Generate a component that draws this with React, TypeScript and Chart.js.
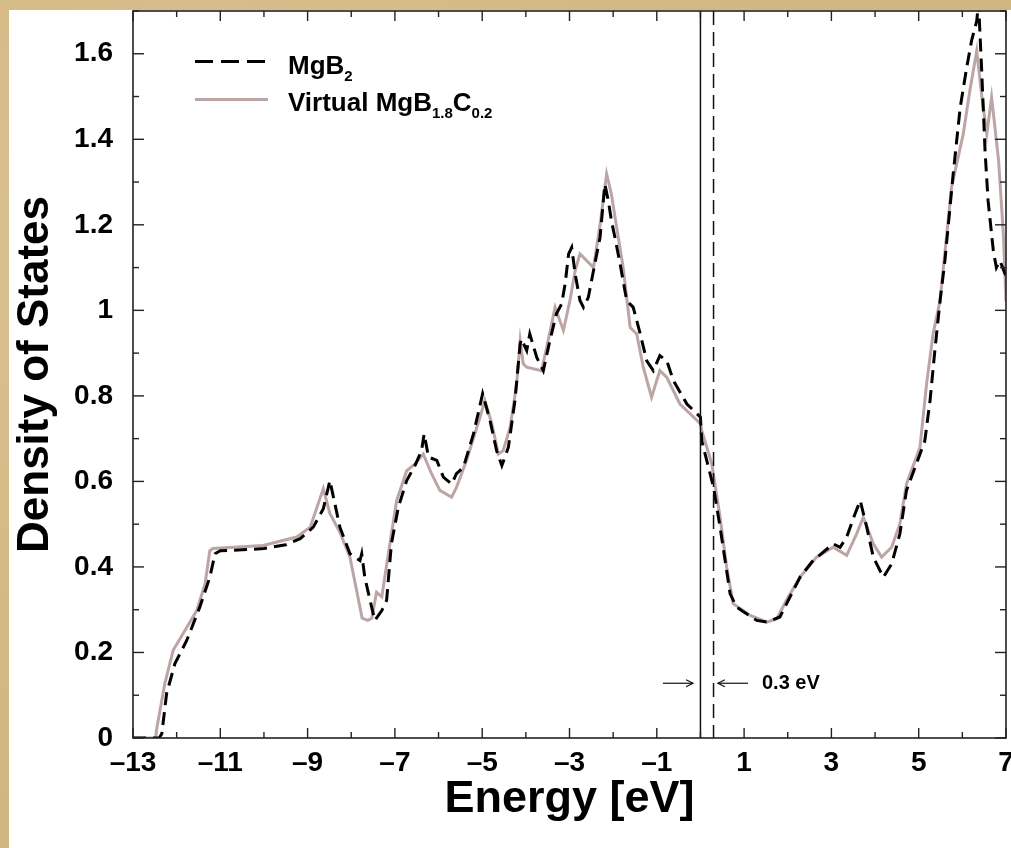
import React, { useEffect, useRef } from "react";
import { Chart, registerables } from "chart.js";

Chart.register(...registerables);

// ---------- data ----------
const seriesLabels = ["MgB₂", "Virtual MgB1.8C0.2"];

const mgb2Points: [number, number][] = [
  [-13, 0], [-12.4, 0], [-12.34, 0.01], [-12.23, 0.104], [-12.04, 0.174], [-11.77, 0.228],
  [-11.47, 0.306], [-11.24, 0.376], [-11.12, 0.431], [-11.0, 0.438], [-10.5, 0.44], [-10.0, 0.443],
  [-9.5, 0.452], [-9.17, 0.466], [-8.87, 0.493], [-8.64, 0.536], [-8.49, 0.602], [-8.26, 0.493],
  [-8.03, 0.431], [-7.8, 0.415], [-7.76, 0.431], [-7.69, 0.376], [-7.57, 0.322], [-7.46, 0.275],
  [-7.3, 0.298], [-7.19, 0.322], [-7.08, 0.454], [-6.92, 0.54], [-6.73, 0.602], [-6.54, 0.637],
  [-6.39, 0.672], [-6.33, 0.711], [-6.23, 0.657], [-6.04, 0.649], [-5.89, 0.61], [-5.7, 0.594],
  [-5.59, 0.618], [-5.43, 0.633], [-5.2, 0.711], [-4.99, 0.805], [-4.82, 0.742], [-4.67, 0.672],
  [-4.55, 0.637], [-4.4, 0.68], [-4.25, 0.789], [-4.13, 0.922], [-4.1, 0.933], [-3.98, 0.906],
  [-3.91, 0.945], [-3.75, 0.89], [-3.6, 0.859], [-3.45, 0.929], [-3.3, 0.992], [-3.18, 1.015],
  [-3.1, 1.062], [-3.02, 1.132], [-2.95, 1.147], [-2.87, 1.085], [-2.76, 1.023], [-2.68, 1.007],
  [-2.57, 1.03], [-2.45, 1.093], [-2.3, 1.171], [-2.19, 1.295], [-2.11, 1.256], [-2.04, 1.21],
  [-1.96, 1.171], [-1.84, 1.108], [-1.69, 1.023], [-1.54, 1.007], [-1.38, 0.945], [-1.23, 0.882],
  [-1.08, 0.859], [-0.93, 0.894], [-0.77, 0.882], [-0.62, 0.836], [-0.31, 0.781], [0.0, 0.75],
  [0.03, 0.695], [0.3, 0.586], [0.45, 0.493], [0.68, 0.337], [0.83, 0.306], [1.29, 0.275],
  [1.52, 0.271], [1.82, 0.283], [2.28, 0.376], [2.58, 0.415], [3.04, 0.454], [3.2, 0.446],
  [3.35, 0.47], [3.54, 0.524], [3.66, 0.555], [3.81, 0.493], [3.96, 0.423], [4.19, 0.376],
  [4.38, 0.407], [4.57, 0.478], [4.72, 0.579], [5.03, 0.664], [5.14, 0.695], [5.26, 0.789],
  [5.37, 0.906], [5.49, 1.023], [5.6, 1.116], [5.79, 1.319], [5.95, 1.474], [6.1, 1.568],
  [6.21, 1.63], [6.33, 1.677], [6.37, 1.72], [6.44, 1.568], [6.52, 1.373], [6.59, 1.256],
  [6.71, 1.139], [6.78, 1.1], [6.86, 1.116], [7.0, 1.08],
];

const virtualPoints: [number, number][] = [
  [-13, 0], [-12.48, 0], [-12.46, 0.02], [-12.27, 0.128], [-12.08, 0.205], [-11.54, 0.298],
  [-11.35, 0.36], [-11.24, 0.438], [-11.17, 0.443], [-10.5, 0.447], [-10.02, 0.45], [-9.25, 0.47],
  [-8.94, 0.493], [-8.64, 0.583], [-8.49, 0.525], [-8.26, 0.481], [-8.03, 0.423], [-7.75, 0.28],
  [-7.62, 0.275], [-7.53, 0.28], [-7.42, 0.341], [-7.3, 0.33], [-7.15, 0.431], [-6.96, 0.555],
  [-6.73, 0.625], [-6.54, 0.641], [-6.35, 0.664], [-6.16, 0.618], [-5.97, 0.579], [-5.7, 0.563],
  [-5.59, 0.586], [-5.36, 0.649], [-5.05, 0.75], [-4.94, 0.789], [-4.78, 0.735], [-4.63, 0.664],
  [-4.52, 0.672], [-4.36, 0.727], [-4.21, 0.828], [-4.13, 0.929], [-4.06, 0.875], [-3.98, 0.867],
  [-3.64, 0.859], [-3.49, 0.929], [-3.33, 1.007], [-3.14, 0.953], [-2.99, 1.023], [-2.87, 1.093],
  [-2.76, 1.132], [-2.45, 1.1], [-2.3, 1.2], [-2.15, 1.319], [-2.04, 1.272], [-1.92, 1.194],
  [-1.77, 1.1], [-1.61, 0.96], [-1.46, 0.945], [-1.31, 0.867], [-1.12, 0.797], [-0.93, 0.859],
  [-0.77, 0.843], [-0.47, 0.781], [0.0, 0.735], [0.03, 0.719], [0.26, 0.641], [0.45, 0.516],
  [0.6, 0.4], [0.75, 0.314], [1.13, 0.287], [1.52, 0.271], [1.75, 0.279], [1.97, 0.322],
  [2.28, 0.376], [2.66, 0.423], [3.04, 0.446], [3.35, 0.427], [3.58, 0.478], [3.73, 0.516],
  [3.96, 0.454], [4.15, 0.423], [4.38, 0.446], [4.57, 0.501], [4.72, 0.594], [5.03, 0.68],
  [5.18, 0.828], [5.33, 0.945], [5.49, 1.023], [5.75, 1.287], [6.02, 1.412], [6.17, 1.513],
  [6.33, 1.607], [6.44, 1.506], [6.56, 1.412], [6.67, 1.498], [6.83, 1.35], [6.94, 1.178],
  [7.0, 1.02],
];

const xTickValues = [-13, -11, -9, -7, -5, -3, -1, 1, 3, 5, 7];
const xMinorTickValues = [-13, -12, -11, -10, -9, -8, -7, -6, -5, -4, -3, -2, -1, 0, 1, 2, 3, 4, 5, 6, 7];
const yTickValues = [0, 0.2, 0.4, 0.6, 0.8, 1, 1.2, 1.4, 1.6];
const yMinorTickValues = [0, 0.1, 0.2, 0.3, 0.4, 0.5, 0.6, 0.7, 0.8, 0.9, 1, 1.1, 1.2, 1.3, 1.4, 1.5, 1.6, 1.7];

// annotation values (energies in eV, DOS level)
const fermiSolid = 0;
const fermiDashed = 0.3;
const arrowLevel = 0.128;
const arrowLeft: [number, number] = [-0.86, -0.17];
const arrowRight: [number, number] = [1.09, 0.4];
const shiftLabelAt = 1.41;
const shiftLabel = "0.3 eV";

const FONT = '"Liberation Sans", Arial, Helvetica, sans-serif';
const PINK = "#bda5a5";

function line(ctx: CanvasRenderingContext2D, x1: number, y1: number, x2: number, y2: number) {
  ctx.beginPath();
  ctx.moveTo(x1, y1);
  ctx.lineTo(x2, y2);
  ctx.stroke();
}

function arrow(ctx: CanvasRenderingContext2D, x1: number, x2: number, y: number) {
  line(ctx, x1, y, x2, y);
  const d = x2 > x1 ? -1 : 1;
  ctx.beginPath();
  ctx.moveTo(x2 + d * 7, y - 3.5);
  ctx.lineTo(x2, y);
  ctx.lineTo(x2 + d * 7, y + 3.5);
  ctx.stroke();
}

const decorPlugin = {
  id: "decor",
  afterDatasetsDraw(chart: any) {
    const { ctx, chartArea: a, scales } = chart;
    const xs = scales.x;
    const ys = scales.y;
    ctx.save();

    // Fermi levels
    ctx.strokeStyle = "#111";
    ctx.lineWidth = 1.5;
    const x0 = xs.getPixelForValue(fermiSolid);
    line(ctx, x0, a.top, x0, a.bottom);
    ctx.setLineDash([14, 7]);
    const x3 = xs.getPixelForValue(fermiDashed);
    line(ctx, x3, a.top, x3, a.bottom);
    ctx.setLineDash([]);

    // arrows + label
    const ay = ys.getPixelForValue(arrowLevel);
    ctx.lineWidth = 1.2;
    arrow(ctx, xs.getPixelForValue(arrowLeft[0]), xs.getPixelForValue(arrowLeft[1]), ay);
    arrow(ctx, xs.getPixelForValue(arrowRight[0]), xs.getPixelForValue(arrowRight[1]), ay);
    ctx.fillStyle = "#000";
    ctx.font = `bold 20px ${FONT}`;
    ctx.textBaseline = "middle";
    ctx.textAlign = "left";
    ctx.fillText(shiftLabel, xs.getPixelForValue(shiftLabelAt), ay);

    // frame
    ctx.strokeStyle = "#222";
    ctx.lineWidth = 1.6;
    ctx.strokeRect(a.left, a.top, a.right - a.left, a.bottom - a.top);

    // inward ticks
    ctx.lineWidth = 1.4;
    for (const v of xMinorTickValues) {
      const px = xs.getPixelForValue(v);
      const len = xTickValues.includes(v) ? 10 : 6;
      line(ctx, px, a.bottom, px, a.bottom - len);
      line(ctx, px, a.top, px, a.top + len);
    }
    for (const v of yMinorTickValues) {
      const py = ys.getPixelForValue(v);
      const major = yTickValues.some((t) => Math.abs(t - v) < 1e-6);
      const len = major ? 11 : 6;
      line(ctx, a.left, py, a.left + len, py);
      line(ctx, a.right, py, a.right - len, py);
    }

    // legend
    const lx0 = a.left + 62;
    const lx1 = a.left + 135;
    const tx = a.left + 155;
    const l1 = a.top + 50.5;
    const l2 = a.top + 88.5;
    ctx.lineWidth = 3;
    ctx.strokeStyle = "#000";
    ctx.setLineDash([18, 8]);
    line(ctx, lx0, l1, lx1, l1);
    ctx.setLineDash([]);
    ctx.strokeStyle = PINK;
    line(ctx, lx0, l2, lx1, l2);

    ctx.fillStyle = "#000";
    ctx.textBaseline = "alphabetic";
    const big = `bold 26px ${FONT}`;
    const small = `bold 15px ${FONT}`;
    const runs = (parts: [string, boolean][], x: number, base: number) => {
      let cx = x;
      for (const [t, sub] of parts) {
        ctx.font = sub ? small : big;
        ctx.fillText(t, cx, sub ? base + 7 : base);
        cx += ctx.measureText(t).width;
      }
    };
    runs([["MgB", false], ["2", true]], tx, l1 + 12);
    runs([["Virtual MgB", false], ["1.8", true], ["C", false], ["0.2", true]], tx, l2 + 11);

    ctx.restore();
  },
};

export default function App() {
  const ref = useRef<HTMLCanvasElement | null>(null);

  useEffect(() => {
    if (!ref.current) return;
    const chart = new Chart(ref.current, {
      type: "line",
      data: {
        datasets: [
          {
            label: seriesLabels[0],
            data: mgb2Points.map(([x, y]) => ({ x, y })),
            borderColor: "#000",
            borderWidth: 3,
            borderDash: [13, 7],
            pointRadius: 0,
            tension: 0,
            fill: false,
          },
          {
            label: seriesLabels[1],
            data: virtualPoints.map(([x, y]) => ({ x, y })),
            borderColor: PINK,
            borderWidth: 3,
            pointRadius: 0,
            tension: 0,
            fill: false,
          },
        ],
      },
      options: {
        animation: false,
        responsive: false,
        devicePixelRatio: 1,
        layout: { padding: { top: 1, right: 5, left: 0, bottom: 0 } },
        plugins: {
          legend: { display: false },
          tooltip: { enabled: false },
        },
        scales: {
          x: {
            type: "linear",
            min: -13,
            max: 7,
            afterBuildTicks: (s: any) => {
              s.ticks = xTickValues.map((v) => ({ value: v }));
            },
            afterFit: (s: any) => {
              s.height = 110;
              s.paddingLeft = 0;
              s.paddingRight = 0;
            },
            grid: { display: false },
            border: { display: false },
            ticks: {
              autoSkip: false,
              maxRotation: 0,
              padding: 0,
              color: "#000",
              font: { family: FONT, size: 28, weight: "bold", lineHeight: 1.2 },
              callback: (v: any) => (Number(v) < 0 ? "–" + Math.abs(Number(v)) : String(v)),
            },
            title: {
              display: true,
              text: "Energy [eV]",
              color: "#000",
              font: { family: FONT, size: 45, weight: "bold", lineHeight: 1 },
              padding: { top: 0, bottom: 26 },
            },
          },
          y: {
            type: "linear",
            min: 0,
            max: 1.7,
            afterBuildTicks: (s: any) => {
              s.ticks = yTickValues.map((v) => ({ value: v }));
            },
            afterFit: (s: any) => {
              s.width = 124;
              s.paddingTop = 0;
              s.paddingBottom = 0;
            },
            grid: { display: false },
            border: { display: false },
            ticks: {
              padding: 12,
              color: "#000",
              font: { family: FONT, size: 28, weight: "bold", lineHeight: 1.2 },
              callback: (v: any) => String(v),
            },
            title: {
              display: true,
              text: "Density of States",
              color: "#000",
              font: { family: FONT, size: 44, weight: "bold", lineHeight: 1 },
              padding: { top: 5, bottom: 0 },
            },
          },
        },
      },
      plugins: [decorPlugin],
    } as any);
    return () => chart.destroy();
  }, []);

  return (
    <div
      style={{
        position: "fixed",
        inset: 0,
        overflow: "hidden",
        background:
          "radial-gradient(ellipse at 20% 30%, #dcc394 0%, #d4b985 45%, #cfb27c 100%)",
      }}
    >
      <div
        style={{
          position: "absolute",
          left: 9,
          top: 10,
          width: 1002,
          height: 838,
          background: "#fff",
        }}
      >
        <canvas ref={ref} width={1002} height={838} style={{ display: "block" }} />
      </div>
    </div>
  );
}
